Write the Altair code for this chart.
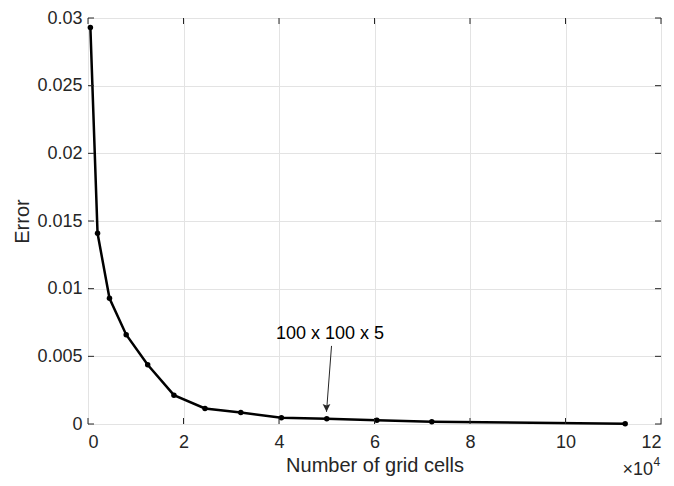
import altair as alt
import pandas as pd

# ---- data ----
cells = [500, 2000, 4500, 8000, 12500, 18000, 24500, 32000, 40500, 50000, 60500, 72000, 112500]
error = [0.02929, 0.01409, 0.00929, 0.00660, 0.00438, 0.00213, 0.00115, 0.00085,
         0.00047, 0.00038, 0.00027, 0.00017, 0.00002]
x_ticks = [0, 20000, 40000, 60000, 80000, 100000, 120000]
y_ticks = [0, 0.005, 0.01, 0.015, 0.02, 0.025, 0.03]
annot_label = "100 x 100 x 5"
annot_text_pos = [50700, 0.00664]
arrow_start = [51000, 0.00577]
arrow_tip = [49950, 0.00090]

W, H = 573, 406
FONT = "Liberation Sans"
INK = "#262626"

df = pd.DataFrame({"cells": cells, "error": error})
xt = pd.DataFrame({"t": x_ticks})
yt = pd.DataFrame({"t": y_ticks})

xs = alt.Scale(domain=[0, 120000], nice=False)
ys = alt.Scale(domain=[0, 0.03], nice=False)

common = dict(labelFont=FONT, titleFont=FONT, labelFontSize=18, titleFontSize=20,
              labelColor=INK, titleColor=INK, titleFontWeight="normal",
              gridColor="#e3e3e3", gridWidth=1, grid=True, tickSize=0, domain=False)
x_axis = alt.Axis(values=x_ticks, labelExpr="datum.value / 10000", title="Number of grid cells",
                  labelPadding=9, titlePadding=4, **common)
y_axis = alt.Axis(values=y_ticks, format="~g", title="Error",
                  labelPadding=6, titlePadding=4, **common)

base = alt.Chart(df)

line = base.mark_line(color="black", strokeWidth=2.5).encode(
    x=alt.X("cells:Q", scale=xs, axis=x_axis),
    y=alt.Y("error:Q", scale=ys, axis=y_axis),
)
pts = base.mark_circle(color="black", size=30, opacity=1).encode(
    x=alt.X("cells:Q", scale=xs), y=alt.Y("error:Q", scale=ys)
)

# inward ticks on all four sides
tick_len = 6
xb = alt.Chart(xt).mark_rule(color=INK, strokeWidth=1).encode(
    x=alt.X("t:Q", scale=xs), y=alt.value(H), y2=alt.value(H - tick_len))
xtop = alt.Chart(xt).mark_rule(color=INK, strokeWidth=1).encode(
    x=alt.X("t:Q", scale=xs), y=alt.value(0), y2=alt.value(tick_len))
yl = alt.Chart(yt).mark_rule(color=INK, strokeWidth=1).encode(
    y=alt.Y("t:Q", scale=ys), x=alt.value(0), x2=alt.value(tick_len))
yr = alt.Chart(yt).mark_rule(color=INK, strokeWidth=1).encode(
    y=alt.Y("t:Q", scale=ys), x=alt.value(W), x2=alt.value(W - tick_len))

# annotation
ann_df = pd.DataFrame({"x": [annot_text_pos[0]], "y": [annot_text_pos[1]], "label": [annot_label]})
ann = alt.Chart(ann_df).mark_text(font=FONT, fontSize=18, color="black", align="center",
                                  baseline="middle").encode(
    x=alt.X("x:Q", scale=xs), y=alt.Y("y:Q", scale=ys), text="label:N")

arr_df = pd.DataFrame({"x": [arrow_start[0]], "y": [arrow_start[1]],
                       "x2": [arrow_tip[0]], "y2": [arrow_tip[1]]})
arrow = alt.Chart(arr_df).mark_rule(color=INK, strokeWidth=1).encode(
    x=alt.X("x:Q", scale=xs), y=alt.Y("y:Q", scale=ys), x2="x2:Q", y2="y2:Q")
head_df = pd.DataFrame({"x": [arrow_tip[0]], "y": [arrow_tip[1]]})
head = alt.Chart(head_df).mark_point(shape="M-1,-1L0,1L1,-1L0,-0.6Z", filled=True, color=INK,
                                     size=60, opacity=1, yOffset=-4).encode(
    x=alt.X("x:Q", scale=xs), y=alt.Y("y:Q", scale=ys))

# exponent label
exp_main = alt.Chart(pd.DataFrame({"s": ["×10"]})).mark_text(
    font=FONT, fontSize=18, color=INK, align="right", baseline="alphabetic").encode(
    x=alt.value(565), y=alt.value(456.5), text="s:N")
exp_sup = alt.Chart(pd.DataFrame({"s": ["4"]})).mark_text(
    font=FONT, fontSize=12, color=INK, align="left", baseline="alphabetic").encode(
    x=alt.value(565.5), y=alt.value(448), text="s:N")

chart = alt.layer(line, pts, xb, xtop, yl, yr, arrow, head, ann, exp_main, exp_sup).properties(
    width=W, height=H,
    background="white",
    autosize=alt.AutoSizeParams(type="none"),
    padding={"left": 80, "top": 10, "right": 5, "bottom": 54},
).configure_view(stroke=INK, strokeWidth=1)

chart.save("out.html", embed_options={"renderer": "svg", "actions": False})
